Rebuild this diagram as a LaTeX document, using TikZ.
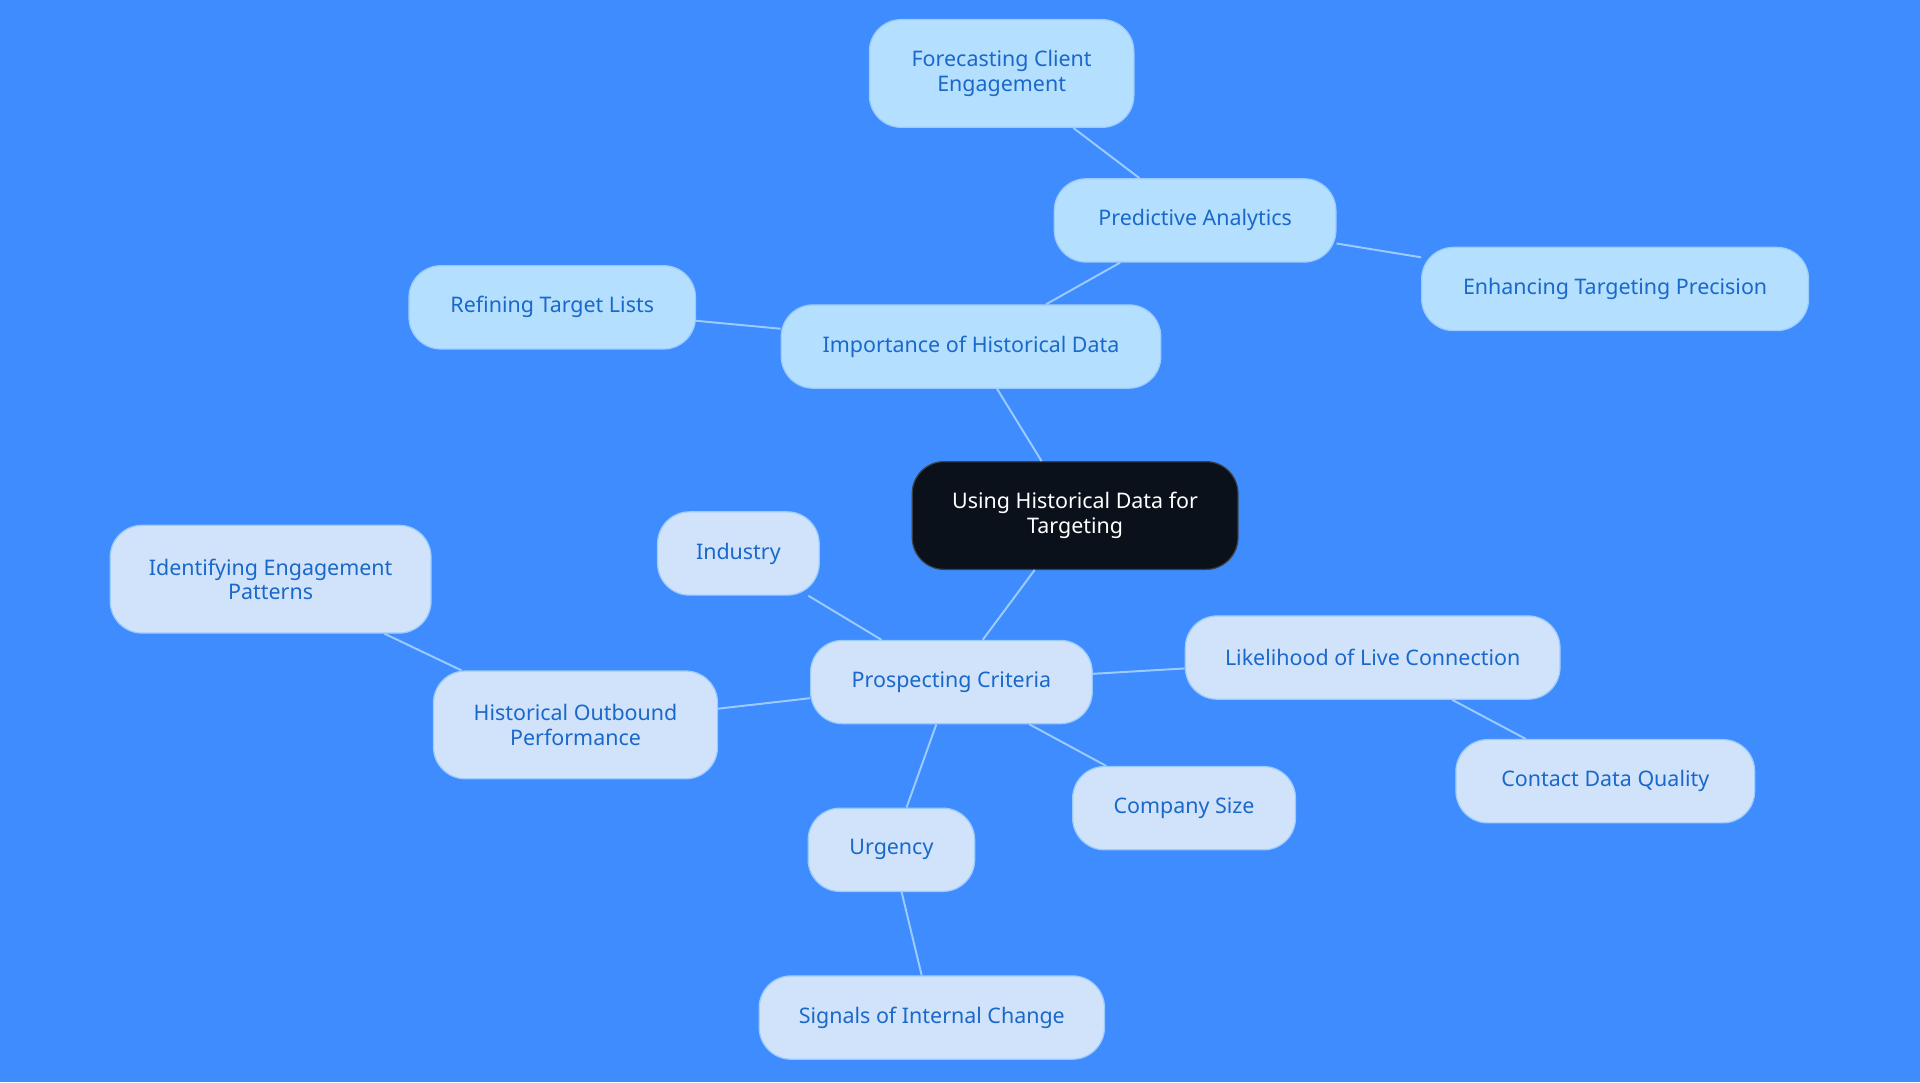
\documentclass[tikz,border=0pt]{standalone}
\usepackage{fontspec}
\setmainfont{Noto Sans}
\definecolor{bgblue}{HTML}{3F8CFF}
\definecolor{topfill}{HTML}{B5DFFF}
\definecolor{lowfill}{HTML}{D0E3FB}
\definecolor{nodetext}{HTML}{1A68C9}
\definecolor{rootfill}{HTML}{0B111A}
\definecolor{linkcol}{HTML}{9CCBFF}
\tikzset{
  idea/.style={rectangle, rounded corners=26pt, draw=linkcol, line width=1pt, text=nodetext, align=center,
    font=\fontsize{17.5}{20}\selectfont, minimum height=68pt, inner xsep=10pt},
  topidea/.style={idea, fill=topfill},
  lowidea/.style={idea, fill=lowfill},
  rootidea/.style={idea, fill=rootfill, draw=rootfill!80!white, text=white, minimum height=88pt},
  link/.style={draw=linkcol, line width=1.6pt}
}
\begin{document}
\begin{tikzpicture}[x=1pt,y=-1pt]
\fill[bgblue] (0,0) rectangle (1568,884);
\useasboundingbox (0,0) rectangle (1568,884);
% ideas
\node[rootidea, minimum width=266pt] (root) at (878,421) {Using Historical Data for\\Targeting};
\node[topidea, minimum width=310pt] (imp) at (793,283) {Importance of Historical Data};
\node[topidea, minimum width=230pt] (pred) at (976,180) {Predictive Analytics};
\node[topidea, minimum width=216pt, minimum height=88pt] (fore) at (818,60) {Forecasting Client\\Engagement};
\node[topidea, minimum width=316pt] (enh) at (1319,236) {Enhancing Targeting Precision};
\node[topidea, minimum width=234pt] (refine) at (451,251) {Refining Target Lists};
\node[lowidea, minimum width=230pt] (pros) at (777,557) {Prospecting Criteria};
\node[lowidea, minimum width=132pt] (ind) at (603,452) {Industry};
\node[lowidea, minimum width=232pt, minimum height=88pt] (hist) at (470,592) {Historical Outbound\\Performance};
\node[lowidea, minimum width=262pt, minimum height=88pt] (ident) at (221,473) {Identifying Engagement\\Patterns};
\node[lowidea, minimum width=306pt] (live) at (1121,537) {Likelihood of Live Connection};
\node[lowidea, minimum width=244pt] (contact) at (1311,638) {Contact Data Quality};
\node[lowidea, minimum width=182pt] (size) at (967,660) {Company Size};
\node[lowidea, minimum width=136pt] (urg) at (728,694) {Urgency};
\node[lowidea, minimum width=282pt] (signals) at (761,831) {Signals of Internal Change};
% links
\draw[link] (root) -- (imp);
\draw[link] (imp) -- (pred);
\draw[link] (pred) -- (fore);
\draw[link] (pred) -- (enh);
\draw[link] (imp) -- (refine);
\draw[link] (root) -- (pros);
\draw[link] (pros) -- (ind);
\draw[link] (pros) -- (hist);
\draw[link] (hist) -- (ident);
\draw[link] (pros) -- (live);
\draw[link] (live) -- (contact);
\draw[link] (pros) -- (size);
\draw[link] (pros) -- (urg);
\draw[link] (urg) -- (signals);
\end{tikzpicture}
\end{document}
